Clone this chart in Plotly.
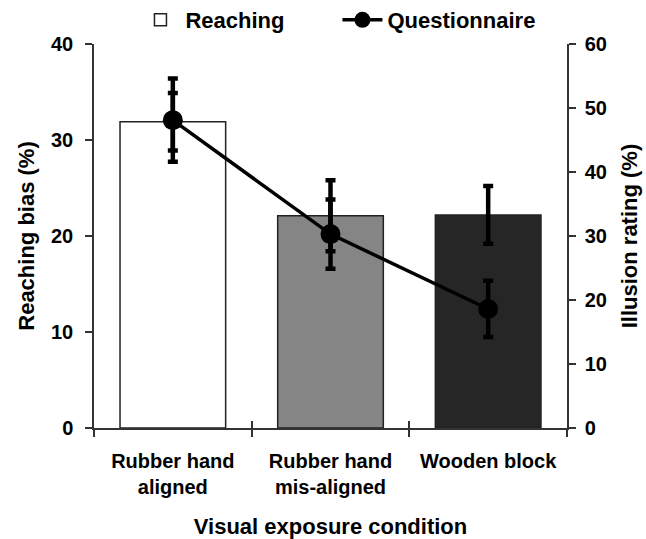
import plotly.graph_objects as go

categories = ["Rubber hand<br>aligned", "Rubber hand<br>mis-aligned", "Wooden block"]
reaching = [31.9, 22.1, 22.2]
reaching_err = [3.0, 3.7, 3.0]
questionnaire = [48.1, 30.3, 18.6]
questionnaire_err = [6.5, 5.4, 4.4]
bar_colors = ["#ffffff", "#858585", "#262626"]

FONT = "Liberation Sans, Arial, sans-serif"
AX = "#333333"

fig = go.Figure()
fig.add_trace(go.Bar(
    x=categories, y=reaching, name="Reaching", yaxis="y",
    marker=dict(color=bar_colors, line=dict(color="#222222", width=1.5)),
    error_y=dict(type="data", array=reaching_err, thickness=4.5, width=5, color="black"),
))
fig.add_trace(go.Scatter(
    x=categories, y=questionnaire, name="Questionnaire", yaxis="y2",
    mode="lines+markers",
    line=dict(color="black", width=3.5),
    marker=dict(size=20, color="black"),
    error_y=dict(type="data", array=questionnaire_err, thickness=4.5, width=5, color="black"),
))
# invisible helper trace so the overlay axis (inward ticks) is drawn
fig.add_trace(go.Scatter(
    x=categories, y=reaching, xaxis="x3", yaxis="y", mode="markers",
    marker=dict(opacity=0), showlegend=False, hoverinfo="skip",
))

fig.update_layout(
    width=646, height=539,
    margin=dict(l=94, r=79, t=44, b=111, autoexpand=False),
    paper_bgcolor="white", plot_bgcolor="white",
    font=dict(family=FONT, size=20, color="black", weight="bold"),
    bargap=0.33,
    showlegend=True,
    legend=dict(orientation="h", x=0.5147, xanchor="center", xref="paper",
                y=1 - 20 / 539, yanchor="middle", yref="container",
                font=dict(size=22, family=FONT, weight="bold"), itemwidth=40,
                traceorder="normal", entrywidth=147, bgcolor="rgba(0,0,0,0)"),
    xaxis=dict(
        type="category", range=[-0.5, 2.5], tickson="boundaries", automargin=False,
        ticks="outside", ticklen=7, tickwidth=1.5, tickcolor=AX, ticklabelstandoff=14,
        showline=True, linecolor=AX, linewidth=1.5, showgrid=False,
        tickfont=dict(size=20, family=FONT, weight="bold"),
        title=dict(text="Visual exposure condition", standoff=35,
                   font=dict(size=22, family=FONT, weight="bold")),
    ),
    xaxis3=dict(
        type="category", range=[-0.5, 2.5], tickson="boundaries", automargin=False,
        overlaying="x", anchor="y", side="bottom",
        ticks="inside", ticklen=7, tickwidth=1.5, tickcolor=AX,
        showticklabels=False, showline=False, showgrid=False,
    ),
    yaxis=dict(
        range=[0, 40], dtick=10, ticks="outside", ticklen=7, tickwidth=1.5, tickcolor=AX,
        ticklabelstandoff=8, automargin=False,
        showline=True, linecolor=AX, linewidth=1.5, showgrid=False, zeroline=False,
        tickfont=dict(size=20, family=FONT, weight="bold"),
        title=dict(text="Reaching bias (%)", standoff=10,
                   font=dict(size=22, family=FONT, weight="bold")),
    ),
    yaxis2=dict(
        range=[0, 60], dtick=10, overlaying="y", side="right", anchor="x",
        ticks="outside", ticklen=7, tickwidth=1.5, tickcolor=AX,
        ticklabelstandoff=5, automargin=False,
        showline=True, linecolor=AX, linewidth=1.5, showgrid=False, zeroline=False,
        tickfont=dict(size=20, family=FONT, weight="bold"),
        title=dict(text="Illusion rating (%)", standoff=16,
                   font=dict(size=22, family=FONT, weight="bold")),
    ),
)

fig.write_html("out.html", config={"displayModeBar": False},
               post_script="document.body.style.margin='0px';document.body.style.overflow='hidden';")
